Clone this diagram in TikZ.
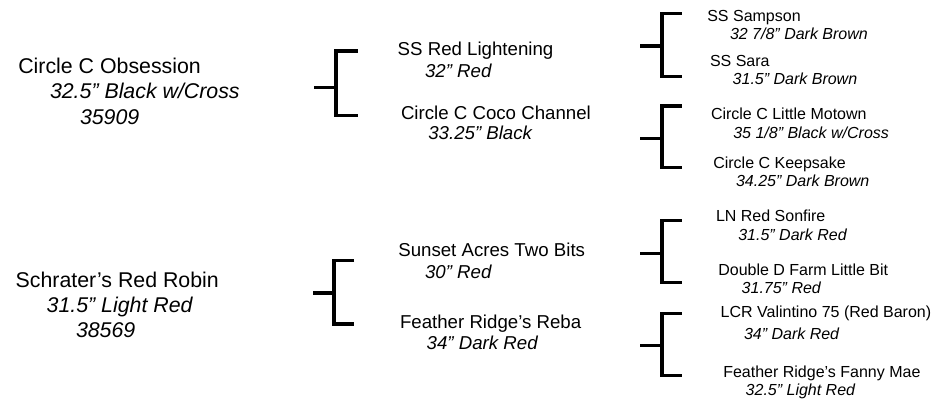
\documentclass[tikz,border=0pt]{standalone}
\usepackage{fontspec}
\setmainfont{Liberation Sans}
\begin{document}
\begin{tikzpicture}[x=0.75pt,y=-0.75pt,
  lbl/.style={anchor=base west, inner sep=0pt, outer sep=0pt},
  big/.style={lbl, font=\fontsize{16}{19}\selectfont},
  bigi/.style={lbl, font=\fontsize{16}{19}\selectfont\itshape},
  mid/.style={lbl, font=\fontsize{14}{17}\selectfont},
  midi/.style={lbl, font=\fontsize{14}{17}\selectfont\itshape},
  sml/.style={lbl, font=\fontsize{12}{14}\selectfont},
  smli/.style={lbl, font=\fontsize{12}{14}\selectfont\itshape},
  bracket/.style={line width=2.4pt, line join=miter, line cap=butt}]
\useasboundingbox (0,0) rectangle (937,399);

% generation 1
\node[big]  (a1)  at (18.3,73.5) {Circle C Obsession};
\node[bigi] (a1c) at (50,99)     {32.5” Black w/Cross};
\node[bigi] (a1n) at (80,124.5)  {35909};
\node[big]  (b1)  at (15.7,287.7) {Schrater’s Red Robin};
\node[bigi] (b1c) at (46.7,312.7) {31.5” Light Red};
\node[bigi] (b1n) at (76,337.7)   {38569};

% generation 2
\node[mid]  (a2)  at (397.7,56)   {SS Red Lightening};
\node[midi] (a2c) at (425,77.3)   {32” Red};
\node[mid]  (a3)  at (401,119.3)  {Circle C Coco Channel};
\node[midi] (a3c) at (428.3,140)  {33.25” Black};
\node[mid]  (b2)  at (398.3,256)  {Sunset Acres Two Bits};
\node[midi] (b2c) at (425,278.3)  {30” Red};
\node[mid]  (b3)  at (400,328.3)  {Feather Ridge’s Reba};
\node[midi] (b3c) at (426.7,349.3) {34” Dark Red};

% generation 3
\node[sml]  (c1)  at (707.3,21.7) {SS Sampson};
\node[smli] (c1c) at (730,39.5)   {32 7/8” Dark Brown};
\node[sml]  (c2)  at (710,66.7)   {SS Sara};
\node[smli] (c2c) at (732.7,85)   {31.5” Dark Brown};
\node[sml]  (c3)  at (711,120)    {Circle C Little Motown};
\node[smli] (c3c) at (733.3,138.3) {35 1/8” Black w/Cross};
\node[sml]  (c4)  at (713.3,168.3) {Circle C Keepsake};
\node[smli] (c4c) at (736,186.7)  {34.25” Dark Brown};
\node[sml]  (d1)  at (716,221.7)  {LN Red Sonfire};
\node[smli] (d1c) at (738.3,240.7) {31.5” Dark Red};
\node[sml]  (d2)  at (718.3,275)  {Double D Farm Little Bit};
\node[smli] (d2c) at (741.7,293.3) {31.75” Red};
\node[sml]  (d3)  at (720.7,317.5) {LCR Valintino 75 (Red Baron)};
\node[smli] (d3c) at (744,339.3)  {34” Dark Red};
\node[sml]  (d4)  at (723.3,377.3) {Feather Ridge's Fanny Mae};
\node[smli] (d4c) at (745.7,395)  {32.5” Light Red};

% brackets: stem start, joint, top arm end, bottom arm end
\coordinate (k1s) at (314,87.7);   \coordinate (k1j) at (336,87.7);
\coordinate (k1t) at (357.7,51);   \coordinate (k1b) at (357.7,115.7);
\coordinate (k2s) at (313,293);    \coordinate (k2j) at (334,293);
\coordinate (k2t) at (354,260.7);  \coordinate (k2b) at (354,324);
\coordinate (k3s) at (640,46);     \coordinate (k3j) at (662,46);
\coordinate (k3t) at (681.7,13.7); \coordinate (k3b) at (681.7,76.3);
\coordinate (k4s) at (640,138.3);  \coordinate (k4j) at (662,138.3);
\coordinate (k4t) at (681.7,106);  \coordinate (k4b) at (681.7,167.3);
\coordinate (k5s) at (640,253.3);  \coordinate (k5j) at (662,253.3);
\coordinate (k5t) at (681.7,220.7); \coordinate (k5b) at (681.7,282.3);
\coordinate (k6s) at (640,345.7);  \coordinate (k6j) at (662,345.7);
\coordinate (k6t) at (681.7,313.3); \coordinate (k6b) at (681.7,375.7);

\foreach \k in {k1,k2,k3,k4,k5,k6} {
  \draw[bracket] (\k s) -- (\k j);
  \draw[bracket] (\k t) -| (\k j) |- (\k b);
}
\end{tikzpicture}
\end{document}
